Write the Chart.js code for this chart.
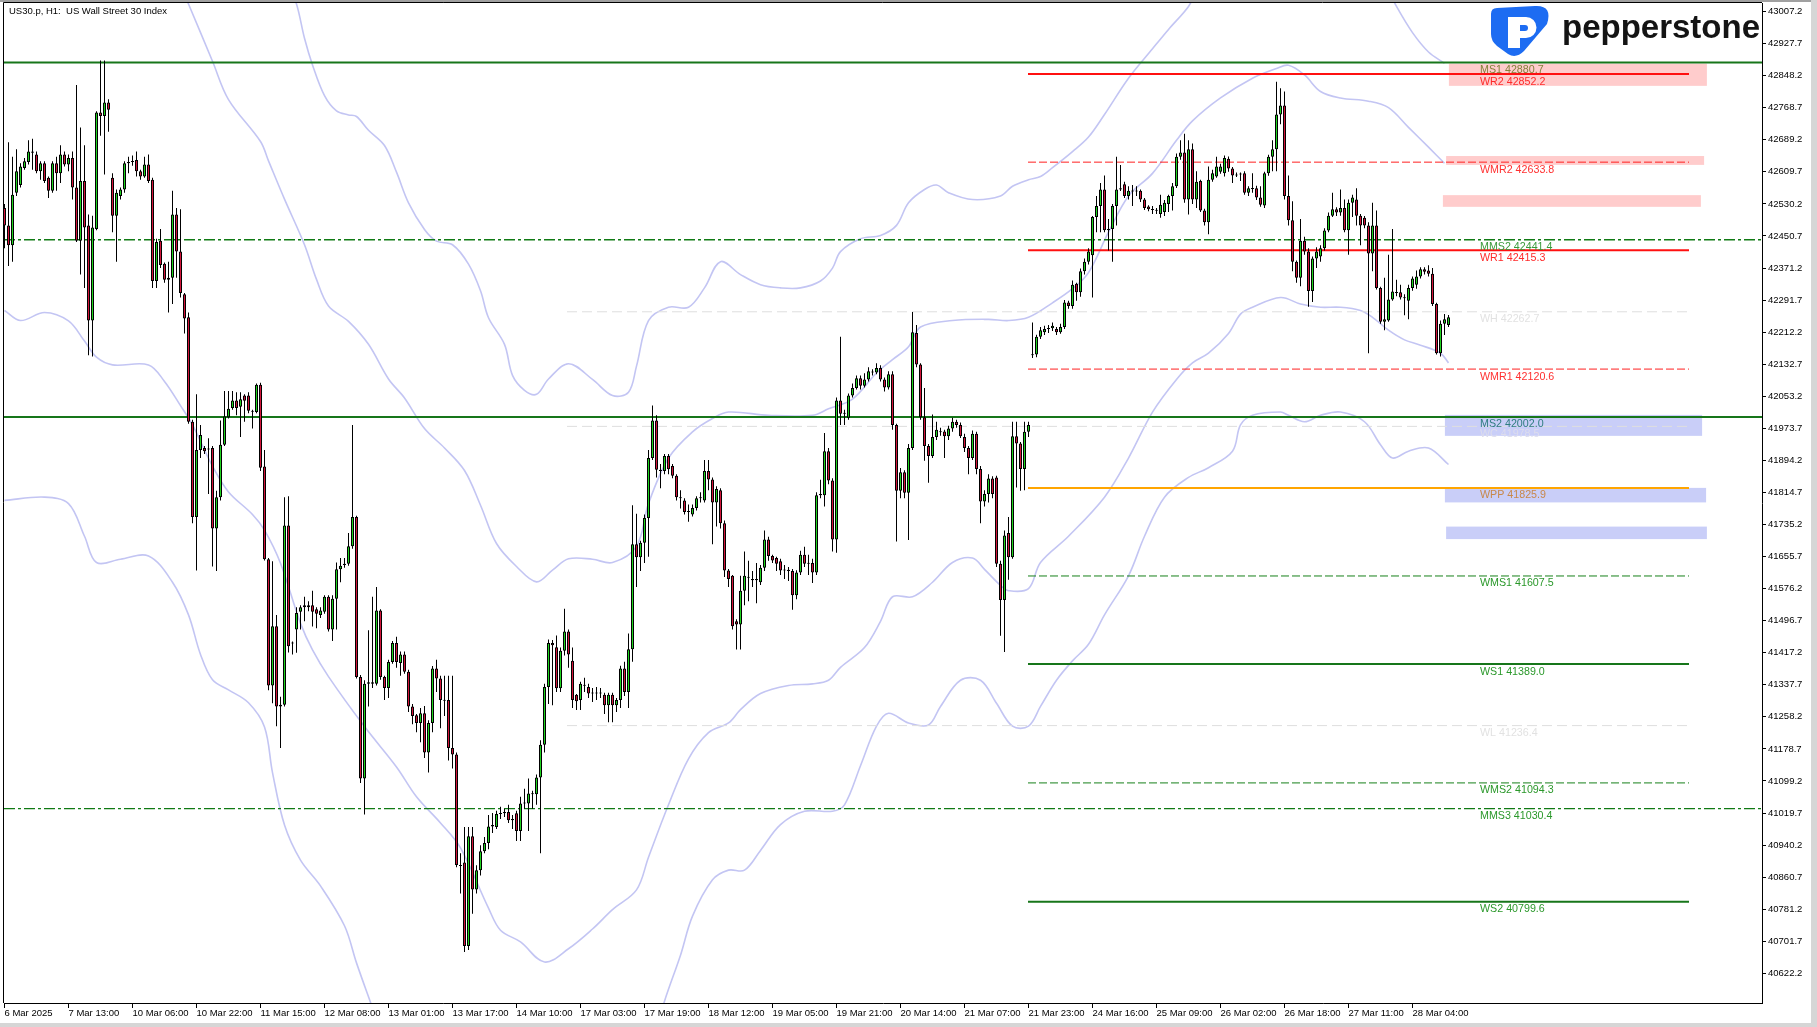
<!DOCTYPE html>
<html>
<head>
<meta charset="utf-8">
<title>US30.p H1</title>
<script src="https://cdn.jsdelivr.net/npm/chart.js@4.4.1/dist/chart.umd.min.js"></script>
<style>
  html, body { margin: 0; padding: 0; background: #fff; overflow: hidden; }
  #wrap { width: 1817px; height: 1027px; position: relative; }
</style>
</head>
<body>
<div id="wrap"><canvas id="chart"></canvas></div>
<script>
// ---- data ----
const timeLabels = ['6 Mar 2025', '7 Mar 13:00', '10 Mar 06:00', '10 Mar 22:00', '11 Mar 15:00', '12 Mar 08:00',
  '13 Mar 01:00', '13 Mar 17:00', '14 Mar 10:00', '17 Mar 03:00', '17 Mar 19:00', '18 Mar 12:00', '19 Mar 05:00',
  '19 Mar 21:00', '20 Mar 14:00', '21 Mar 07:00', '21 Mar 23:00', '24 Mar 16:00', '25 Mar 09:00', '26 Mar 02:00',
  '26 Mar 18:00', '27 Mar 11:00', '28 Mar 04:00'];

const yTickValues = [43007.2, 42927.7, 42848.2, 42768.7, 42689.2, 42609.7, 42530.2, 42450.7, 42371.2, 42291.7,
  42212.2, 42132.7, 42053.2, 41973.7, 41894.2, 41814.7, 41735.2, 41655.7, 41576.2, 41496.7, 41417.2, 41337.7,
  41258.2, 41178.7, 41099.2, 41019.7, 40940.2, 40860.7, 40781.2, 40701.7, 40622.2];

const open = [
  42520,42477,42428,42558,42577,42619,42634,42660,42653,42611,
  42631,42595,42563,42631,42606,42653,42628,42644,42571,42439,
  42587,42477,42241,42468,42757,42748,42782,42595,42501,42550,
  42566,42631,42634,42639,42611,42598,42628,42590,42339,42439,
  42382,42342,42347,42504,42412,42306,42249,41990,41754,41920,
  41925,41921,41925,41725,41803,41933,42001,42024,42043,42027,
  42055,42055,42017,42014,42082,41879,41649,41336,41483,41284,
  41288,41733,41441,41475,41519,41530,41535,41535,41525,41511,
  41519,41556,41475,41551,41624,41635,41638,41681,41754,41357,
  41105,41340,41344,41340,41522,41357,41330,41394,41441,41392,
  41413,41370,41284,41262,41243,41267,41170,41243,41378,41353,
  41300,41300,41181,41165,40891,40897,40690,40962,40830,40878,
  40925,40945,40986,40985,41017,41019,41022,41002,41019,40975,
  41043,41043,41068,41066,41108,41189,41332,41441,41431,41329,
  41422,41470,41397,41313,41300,41338,41332,41316,41318,41316,
  41313,41287,41313,41287,41300,41378,41320,41426,41686,41654,
  41690,41751,41900,41993,41871,41868,41905,41880,41856,41803,
  41795,41766,41760,41776,41800,41795,41868,41847,41790,41820,
  41738,41621,41608,41495,41487,41571,41605,41600,41597,41592,
  41628,41698,41657,41652,41644,41621,41623,41620,41560,41616,
  41660,41638,41640,41616,41808,41808,41917,41844,41698,42043,
  42010,42000,42055,42074,42098,42079,42095,42114,42112,42123,
  42095,42075,42108,41982,41819,41865,41814,41925,42210,42132,
  42001,41930,41905,41952,41964,41966,41954,41973,41990,41982,
  41952,41925,41900,41960,41873,41792,41811,41849,41852,41638,
  41548,41714,41654,41954,41936,41873,41965,42155,42157,42201,
  42212,42220,42222,42220,42212,42225,42286,42277,42332,42311,
  42363,42387,42403,42498,42525,42566,42465,42468,42525,42566,
  42579,42550,42563,42561,42563,42541,42524,42517,42515,42505,
  42510,42530,42550,42574,42647,42658,42541,42666,42541,42587,
  42514,42485,42590,42598,42610,42606,42642,42618,42601,42603,
  42606,42558,42569,42569,42546,42526,42606,42647,42666,42752,
  42774,42550,42490,42387,42347,42439,42412,42314,42395,42400,
  42420,42464,42501,42517,42509,42520,42465,42533,42541,42501,
  42496,42477,42407,42477,42322,42238,42241,42293,42309,42311,
  42298,42290,42322,42330,42350,42368,42365,42357,42282,42160,
  42233,42230];

const high = [
  42530,42683,42647,42666,42631,42644,42688,42692,42660,42636,
  42636,42598,42636,42647,42676,42660,42653,42660,42825,42720,
  42676,42504,42501,42760,42886,42886,42790,42606,42566,42571,
  42636,42647,42650,42660,42615,42647,42653,42595,42444,42468,
  42385,42387,42563,42520,42517,42309,42261,41995,42058,41982,
  41930,41949,41930,41819,41993,42066,42066,42066,42063,42063,
  42058,42063,42020,42085,42087,41920,41652,41644,41511,41308,
  41803,41805,41445,41530,41535,41556,41545,41571,41530,41530,
  41560,41560,41560,41641,41652,41652,41714,41982,41757,41362,
  41349,41473,41556,41580,41525,41360,41400,41446,41457,41420,
  41420,41375,41290,41265,41280,41285,41250,41384,41400,41360,
  41360,41360,41360,41170,40920,40985,40985,40985,40890,40940,
  40960,41015,41020,41025,41035,41030,41040,41015,41025,41060,
  41080,41105,41075,41115,41200,41340,41450,41449,41460,41430,
  41526,41475,41430,41315,41345,41355,41340,41330,41332,41330,
  41318,41318,41318,41305,41385,41395,41465,41783,41762,41695,
  41760,41920,42030,42006,41885,41910,41910,41885,41860,41820,
  41800,41785,41785,41805,41815,41895,41895,41852,41830,41825,
  41745,41625,41610,41500,41608,41668,41645,41620,41640,41635,
  41720,41705,41660,41655,41650,41635,41630,41625,41622,41670,
  41680,41660,41650,41815,41846,41962,41925,41850,42050,42201,
  42020,42060,42085,42105,42105,42110,42125,42120,42135,42130,
  42100,42115,42115,41985,41875,41870,41935,42262,42230,42135,
  42074,41935,42008,41990,41975,41970,41980,42000,41995,41988,
  41960,41930,41968,41965,41880,41820,41860,41855,41856,41645,
  41720,41754,41990,41990,41940,41990,41990,42236,42206,42225,
  42228,42230,42236,42225,42233,42292,42290,42340,42335,42370,
  42395,42420,42500,42550,42582,42601,42493,42530,42647,42627,
  42585,42574,42577,42574,42566,42545,42527,42525,42520,42553,
  42540,42553,42582,42655,42688,42704,42688,42680,42611,42590,
  42518,42623,42615,42647,42630,42650,42648,42622,42608,42608,
  42611,42574,42606,42575,42574,42610,42652,42688,42833,42817,
  42809,42601,42537,42390,42493,42449,42420,42400,42423,42428,
  42470,42509,42558,42522,42566,42541,42541,42553,42569,42505,
  42500,42485,42533,42514,42325,42347,42404,42468,42342,42330,
  42306,42330,42350,42365,42373,42373,42378,42371,42285,42241,
  42257,42255];

const low = [
  42420,42376,42387,42550,42571,42615,42628,42615,42606,42590,
  42582,42545,42558,42563,42582,42623,42611,42541,42436,42355,
  42322,42155,42152,42465,42699,42603,42709,42460,42387,42541,
  42558,42606,42625,42598,42590,42595,42582,42322,42322,42371,
  42335,42261,42282,42347,42298,42209,41985,41738,41621,41900,
  41910,41811,41631,41620,41795,41930,41998,42020,42006,41952,
  41990,42011,41973,42011,41868,41646,41324,41292,41235,41181,
  41284,41418,41413,41417,41475,41495,41520,41482,41478,41503,
  41514,41470,41446,41475,41592,41628,41633,41675,41353,41094,
  41016,41284,41330,41336,41350,41300,41305,41390,41380,41360,
  41365,41270,41240,41220,41195,41156,41120,41220,41320,41230,
  41260,41150,41130,40885,40820,40675,40680,40770,40820,40865,
  40920,40930,40970,40980,41005,41010,40995,40980,40950,40950,
  41030,40975,41030,41040,40920,41170,41290,41287,41320,41320,
  41410,41380,41280,41275,41275,41320,41305,41295,41300,41305,
  41265,41245,41245,41270,41280,41310,41280,41395,41580,41620,
  41640,41655,41895,41852,41825,41860,41860,41850,41795,41775,
  41760,41742,41755,41770,41790,41790,41820,41686,41730,41725,
  41605,41580,41475,41425,41425,41535,41545,41580,41540,41585,
  41620,41645,41640,41620,41610,41600,41595,41524,41550,41610,
  41630,41610,41590,41610,41800,41780,41835,41668,41665,41982,
  41982,41995,42050,42070,42070,42075,42090,42105,42108,42090,
  42065,42070,41970,41693,41800,41800,41697,41920,42125,41995,
  41893,41839,41900,41945,41955,41900,41945,41965,41975,41950,
  41915,41860,41895,41860,41738,41780,41790,41800,41630,41459,
  41419,41598,41650,41827,41819,41820,41952,42148,42150,42195,
  42205,42210,42215,42205,42208,42220,42270,42270,42290,42300,
  42355,42380,42298,42460,42460,42460,42415,42387,42477,42562,
  42545,42541,42525,42550,42535,42515,42512,42505,42505,42496,
  42500,42510,42514,42570,42640,42533,42504,42530,42520,42510,
  42477,42455,42585,42595,42605,42598,42610,42582,42597,42587,
  42553,42550,42558,42540,42523,42520,42600,42611,42611,42728,
  42541,42477,42363,42335,42326,42404,42275,42287,42371,42387,
  42415,42460,42498,42500,42501,42460,42404,42498,42477,42428,
  42470,42160,42363,42318,42233,42217,42238,42290,42301,42293,
  42254,42244,42315,42320,42345,42355,42350,42277,42157,42152,
  42205,42225];

const close = [
  42477,42428,42553,42611,42623,42636,42660,42657,42611,42631,
  42587,42563,42631,42606,42653,42628,42644,42571,42439,42587,
  42472,42241,42472,42757,42748,42782,42764,42501,42558,42566,
  42631,42634,42636,42611,42598,42628,42587,42339,42436,42379,
  42342,42347,42504,42412,42309,42246,41990,41754,41920,41957,
  41917,41922,41725,41803,41933,42003,42022,42043,42024,42046,
  42042,42017,42015,42082,41876,41649,41336,41483,41284,41288,
  41733,41433,41440,41516,41530,41535,41530,41519,41514,41522,
  41556,41475,41551,41624,41633,41638,41681,41754,41357,41105,
  41340,41344,41340,41522,41357,41330,41394,41441,41394,41413,
  41370,41284,41260,41243,41267,41170,41243,41378,41353,41300,
  41298,41181,41165,40891,40888,40690,40962,40830,40878,40925,
  40945,40986,40990,41017,41019,41022,41002,41005,40975,41043,
  41045,41068,41066,41108,41189,41332,41441,41436,41329,41422,
  41470,41413,41300,41297,41340,41335,41316,41318,41316,41318,
  41287,41313,41287,41300,41378,41320,41426,41686,41654,41690,
  41751,41900,41993,41871,41868,41905,41872,41856,41803,41800,
  41766,41768,41776,41800,41803,41868,41847,41790,41823,41738,
  41621,41600,41483,41487,41571,41608,41603,41597,41600,41628,
  41698,41657,41646,41638,41621,41623,41620,41560,41616,41660,
  41638,41640,41616,41808,41811,41917,41844,41698,42043,42010,
  42012,42055,42074,42098,42079,42095,42115,42112,42123,42095,
  42075,42108,41982,41819,41865,41814,41925,42212,42132,42001,
  41930,41905,41952,41970,41966,41954,41973,41990,41982,41954,
  41925,41900,41960,41873,41792,41811,41849,41811,41638,41548,
  41708,41654,41954,41936,41873,41965,41982,42157,42201,42217,
  42220,42222,42228,42212,42225,42286,42277,42330,42311,42363,
  42387,42412,42498,42525,42566,42465,42468,42525,42566,42569,
  42550,42563,42561,42563,42541,42520,42517,42515,42513,42528,
  42533,42550,42574,42647,42658,42541,42666,42541,42585,42514,
  42485,42590,42606,42623,42623,42644,42618,42601,42603,42605,
  42558,42569,42567,42546,42528,42606,42647,42666,42752,42774,
  42550,42490,42387,42347,42439,42412,42314,42395,42412,42420,
  42464,42501,42517,42509,42520,42465,42533,42546,42501,42477,
  42477,42407,42477,42322,42238,42244,42293,42313,42311,42298,
  42296,42322,42345,42350,42368,42362,42357,42282,42160,42233,
  42244,42249];

// band curves as [bar, price]; null price = curve leaves the visible range
const bandOuterUpper = [[71,43070],[73,43026],[75,42941],[77,42875],[80,42799],[83,42761],[86,42751],[88,42747],
  [91,42713],[95,42675],[98,42609],[101,42533],[105,42467],[108,42438],[112,42429],[116,42381],[119,42315],
  [121,42248],[125,42182],[127,42105],[130,42068],[133,42058],[136,42096],[141,42134],[147,42095],[152,42055],
  [156,42063],[158,42128],[161,42241],[166,42274],[171,42274],[175,42322],[179,42387],[184,42355],[189,42330],
  [194,42322],[199,42322],[204,42339],[207,42371],[209,42412],[214,42444],[219,42452],[223,42477],[226,42533],
  [230,42566],[233,42577],[236,42558],[242,42541],[249,42550],[252,42574],[256,42590],[259,42598],[262,42620],
  [267,42660],[271,42696],[275,42752],[281,42842],[287,42915],[291,42963],[296,43020],[298,43060],[320,null],
  [346,43060],[348,43020],[352,42955],[356,42907],[360,42879]];
const bandInnerUpper = [[44,43070],[46,43026],[52,42884],[56,42789],[64,42685],[66,42637],[70,42542],[75,42429],
  [78,42343],[81,42277],[86,42239],[91,42182],[96,42096],[100,42049],[105,41973],[110,41925],[115,41869],
  [119,41783],[123,41688],[128,41631],[133,41593],[137,41622],[141,41650],[147,41649],[152,41641],[158,41681],
  [161,41787],[166,41900],[172,41965],[177,41998],[181,42014],[191,42006],[202,42006],[206,42022],[212,42046],
  [218,42111],[222,42144],[226,42176],[229,42225],[237,42241],[246,42244],[251,42241],[256,42249],[262,42285],
  [267,42320],[271,42360],[276,42460],[281,42550],[287,42606],[293,42688],[297,42736],[304,42793],[312,42842],
  [318,42866],[321,42874],[325,42850],[329,42809],[334,42793],[341,42785],[346,42769],[351,42720],[356,42671],
  [360,42631]];
const bandInnerLower = [[0,42266],[4,42241],[10,42261],[16,42240],[20,42190],[23,42150],[27,42131],[36,42131],
  [40,42090],[44,42030],[47,41982],[52,41880],[56,41816],[62,41760],[65,41721],[69,41639],[74,41490],[77,41424],
  [81,41358],[90,41234],[98,41134],[103,41060],[109,40995],[114,40933],[121,40784],[124,40729],[129,40700],
  [135,40650],[141,40683],[147,40732],[152,40780],[158,40829],[161,40910],[166,41040],[171,41154],[176,41219],
  [181,41243],[184,41276],[189,41316],[196,41336],[202,41340],[206,41349],[209,41381],[215,41430],[219,41495],
  [222,41556],[227,41556],[232,41592],[237,41641],[242,41652],[245,41624],[249,41584],[251,41571],[256,41576],
  [259,41641],[266,41706],[275,41803],[281,41900],[287,42014],[293,42095],[297,42136],[301,42160],[306,42209],
  [309,42257],[312,42274],[319,42298],[324,42282],[329,42274],[334,42274],[339,42266],[342,42249],[346,42217],
  [350,42193],[354,42180],[359,42160],[361,42136]];
const bandOuterLower = [[0,41795],[10,41803],[16,41787],[20,41706],[23,41641],[29,41649],[36,41657],[42,41592],
  [46,41511],[49,41413],[52,41350],[56,41325],[61,41293],[65,41233],[67,41120],[70,40990],[74,40903],[79,40839],
  [85,40740],[88,40648],[92,40536],[94,40480],[130,null],[163,40480],[165,40553],[169,40667],[172,40764],
  [177,40854],[181,40878],[185,40878],[189,40927],[194,40991],[200,41024],[207,41024],[210,41040],[214,41137],
  [218,41235],[221,41267],[226,41243],[231,41238],[234,41284],[239,41349],[244,41349],[248,41292],[252,41235],
  [256,41235],[259,41284],[263,41349],[267,41397],[271,41438],[275,41511],[281,41608],[285,41706],[290,41803],
  [296,41852],[301,41876],[307,41917],[309,41982],[312,42006],[319,42014],[321,42006],[325,41990],[329,42006],
  [334,42014],[340,41990],[344,41933],[347,41900],[351,41917],[356,41925],[361,41884]];

const levelNames = ['MS1', 'WR2', 'WMR2', 'MMS2', 'WR1', 'WH', 'WMR1', 'MS2', 'WC', 'WPP',
  'WMS1', 'WS1', 'WL', 'WMS2', 'MMS3', 'WS2'];
const levelValues = [42880.7, 42852.2, 42633.8, 42441.4, 42415.3, 42262.7, 42120.6, 42002.0, 41978.5, 41825.9,
  41607.5, 41389.0, 41236.4, 41094.3, 41030.4, 40799.6];

const zoneLow = [42823, 42627, 42523, 41955, 41790, 41699];
const zoneHigh = [42878, 42649, 42552, 42007, 41826, 41730];
const zoneFrom = [361.1, 360.4, 359.6, 360.1, 360.1, 360.4];
const zoneTo = [425.6, 424.9, 424.1, 424.4, 425.4, 425.6];
const zoneKind = ['sell', 'sell', 'sell', 'buy', 'buy', 'buy'];

// ---- layout / styles ----
const W = 1817, H = 1027;
const PLOT_L = 4, PLOT_T = 3, PLOT_R = 1762, PLOT_B = 1003;
const BAR_PX = 4;
const xMin = -0.125;
const xMax = xMin + (PLOT_R - PLOT_L) / BAR_PX;
const FONT = '"Liberation Sans", Arial, sans-serif';
const UP = '#1fd41f', DOWN = '#d2143a';
const BAND = '#c3c5f3';
const WEEK_FROM = 255.875, PREV_FROM = 140.625, LEVEL_TO = 421.125, LABEL_X = 368.875;

const levelStyle = {
  MS1:  { color: '#17761a', width: 2, dash: [], from: xMin, to: xMax, text: '#85803a' },
  WR2:  { color: '#ff1010', width: 2, dash: [], from: WEEK_FROM, to: LEVEL_TO, text: '#ff2a2a' },
  WMR2: { color: '#ff2020', width: 1, dash: [8, 3], from: WEEK_FROM, to: LEVEL_TO, text: '#ff3030' },
  MMS2: { color: '#107a14', width: 1.4, dash: [11, 3, 3, 3], from: xMin, to: xMax, text: '#3a9a3a' },
  WR1:  { color: '#ff1010', width: 2, dash: [], from: WEEK_FROM, to: LEVEL_TO, text: '#ff2a2a' },
  WH:   { color: '#dedede', width: 1, dash: [10, 5], from: PREV_FROM, to: LEVEL_TO, text: '#e2e2e2' },
  WMR1: { color: '#ff2020', width: 1, dash: [8, 3], from: WEEK_FROM, to: LEVEL_TO, text: '#ff3030' },
  MS2:  { color: '#17761a', width: 2, dash: [], from: xMin, to: xMax, text: '#2f7d80' },
  WC:   { color: '#dedede', width: 1, dash: [10, 5], from: PREV_FROM, to: LEVEL_TO, text: '#dcdcec' },
  WPP:  { color: '#ffa500', width: 2, dash: [], from: WEEK_FROM, to: LEVEL_TO, text: '#c8884a' },
  WMS1: { color: '#17801a', width: 1, dash: [8, 3], from: WEEK_FROM, to: LEVEL_TO, text: '#2a982a' },
  WS1:  { color: '#17761a', width: 2, dash: [], from: WEEK_FROM, to: LEVEL_TO, text: '#2a982a' },
  WL:   { color: '#dedede', width: 1, dash: [10, 5], from: PREV_FROM, to: LEVEL_TO, text: '#e2e2e2' },
  WMS2: { color: '#17801a', width: 1, dash: [8, 3], from: WEEK_FROM, to: LEVEL_TO, text: '#2a982a' },
  MMS3: { color: '#107a14', width: 1.2, dash: [11, 3, 3, 3], from: xMin, to: xMax, text: '#2a982a' },
  WS2:  { color: '#17761a', width: 2, dash: [], from: WEEK_FROM, to: LEVEL_TO, text: '#2a982a' }
};
const zoneColor = { sell: 'rgba(255,190,190,0.78)', buy: 'rgba(186,192,246,0.78)' };

// ---- datasets ----
const idx = open.map((_, i) => i);
const isUp = i => close[i] >= open[i];

function bandDataset(pairs) {
  return {
    type: 'line',
    data: pairs.map(p => ({ x: p[0], y: p[1] })),
    borderColor: BAND,
    borderWidth: 1.6,
    pointRadius: 0,
    tension: 0.35,
    spanGaps: false,
    order: 6
  };
}

const levelDatasets = levelNames.map((name, k) => {
  const st = levelStyle[name];
  return {
    type: 'line',
    data: [{ x: st.from, y: levelValues[k] }, { x: st.to, y: levelValues[k] }],
    borderColor: st.color,
    borderWidth: st.width,
    borderDash: st.dash,
    pointRadius: 0,
    order: 5
  };
});

const datasets = [
  bandDataset(bandOuterUpper),
  bandDataset(bandInnerUpper),
  bandDataset(bandInnerLower),
  bandDataset(bandOuterLower),
  ...levelDatasets,
  {
    type: 'bar',
    data: idx.map(i => ({ x: i, y: [low[i], high[i]] })),
    backgroundColor: '#000',
    borderWidth: 0,
    barThickness: 1,
    minBarLength: 1,
    inflateAmount: 0,
    grouped: false,
    order: 3
  },
  {
    type: 'bar',
    data: idx.map(i => ({ x: i, y: [Math.min(open[i], close[i]), Math.max(open[i], close[i])] })),
    backgroundColor: c => isUp(c.dataIndex) ? UP : DOWN,
    borderColor: '#000',
    borderWidth: 1,
    borderSkipped: false,
    barThickness: 3,
    minBarLength: 1,
    inflateAmount: 0,
    grouped: false,
    order: 2
  }
];

// ---- plugins ----
const zonesPlugin = {
  id: 'zones',
  beforeDatasetsDraw(chart) {
    const { ctx, scales: { x, y } } = chart;
    ctx.save();
    zoneLow.forEach((lo, k) => {
      const x1 = x.getPixelForValue(zoneFrom[k]), x2 = x.getPixelForValue(zoneTo[k]);
      const y1 = y.getPixelForValue(zoneHigh[k]), y2 = y.getPixelForValue(lo);
      ctx.fillStyle = zoneColor[zoneKind[k]];
      ctx.fillRect(x1, y1, x2 - x1, y2 - y1);
    });
    ctx.restore();
  }
};

const labelsPlugin = {
  id: 'levelLabels',
  afterDatasetsDraw(chart) {
    const { ctx, scales: { x, y } } = chart;
    ctx.save();
    ctx.font = '10.7px ' + FONT;
    ctx.textBaseline = 'middle';
    ctx.textAlign = 'left';
    const lx = x.getPixelForValue(LABEL_X);
    levelNames.forEach((name, k) => {
      const py = y.getPixelForValue(levelValues[k]) + 7.5;
      ctx.fillStyle = levelStyle[name].text;
      ctx.fillText(name + ' ' + levelValues[k].toFixed(1), lx, py);
    });
    ctx.restore();
  }
};

const framePlugin = {
  id: 'frame',
  beforeDraw(chart) {
    const { ctx } = chart;
    ctx.save();
    ctx.fillStyle = '#fff';
    ctx.fillRect(0, 0, W, H);
    ctx.restore();
  },
  afterDraw(chart) {
    const { ctx, chartArea: a } = chart;
    ctx.save();
    // window edges
    ctx.fillStyle = '#a0a0a0';
    ctx.fillRect(0, 0, W, 2);
    ctx.fillStyle = '#d6d6d6';
    ctx.fillRect(W - 6, 0, 6, H);
    ctx.fillRect(0, H - 4, W, 4);
    // plot frame top and left
    ctx.strokeStyle = '#000';
    ctx.lineWidth = 1;
    ctx.beginPath();
    ctx.moveTo(a.left - 0.5, a.top - 0.5);
    ctx.lineTo(a.right, a.top - 0.5);
    ctx.moveTo(a.left - 0.5, a.top - 0.5);
    ctx.lineTo(a.left - 0.5, a.bottom);
    ctx.stroke();
    // header
    ctx.fillStyle = '#000';
    ctx.font = '9.5px ' + FONT;
    ctx.textBaseline = 'middle';
    ctx.fillText('US30.p, H1:  US Wall Street 30 Index', 9, 11);
    // logo
    ctx.beginPath();
    ctx.rect(a.left, a.top, a.right - a.left, a.bottom - a.top);
    ctx.clip();
    ctx.fillStyle = '#1d6cf2';
    ctx.beginPath();
    ctx.moveTo(1497, 8);
    ctx.lineTo(1535, 6);
    ctx.quadraticCurveTo(1553, 5, 1547, 24);
    ctx.lineTo(1524, 51);
    ctx.quadraticCurveTo(1516, 59, 1508, 54);
    ctx.lineTo(1497, 46);
    ctx.quadraticCurveTo(1491, 41, 1491, 34);
    ctx.lineTo(1491, 14);
    ctx.quadraticCurveTo(1491, 8, 1497, 8);
    ctx.fill();
    ctx.fillStyle = '#fff';
    ctx.beginPath();
    ctx.moveTo(1508, 17);
    ctx.lineTo(1526, 17);
    ctx.arc(1526, 27.5, 10.5, -Math.PI / 2, Math.PI / 2);
    ctx.lineTo(1520, 38);
    ctx.lineTo(1520, 48);
    ctx.lineTo(1508, 48);
    ctx.closePath();
    ctx.fill();
    ctx.fillStyle = '#1d6cf2';
    ctx.beginPath();
    ctx.moveTo(1520, 25);
    ctx.lineTo(1525, 25);
    ctx.arc(1525, 28, 3, -Math.PI / 2, Math.PI / 2);
    ctx.lineTo(1520, 31);
    ctx.closePath();
    ctx.fill();
    ctx.fillStyle = '#141414';
    ctx.font = 'bold 33px ' + FONT;
    ctx.textBaseline = 'alphabetic';
    ctx.fillText('pepperstone', 1562, 38);
    ctx.restore();
  }
};

// ---- chart ----
new Chart(document.getElementById('chart'), {
  type: 'bar',
  data: { datasets },
  options: {
    responsive: true,
    maintainAspectRatio: false,
    animation: false,
    events: [],
    layout: { padding: { left: PLOT_L, top: PLOT_T, right: 0, bottom: 0 } },
    plugins: { legend: { display: false }, tooltip: { enabled: false } },
    scales: {
      x: {
        type: 'linear',
        position: 'bottom',
        offset: false,
        min: xMin,
        max: xMax,
        afterBuildTicks: s => { s.ticks = timeLabels.map((_, k) => ({ value: k * 16 })); },
        afterFit: s => { s.height = H - PLOT_B; s.paddingLeft = 0; s.paddingRight = 0; },
        ticks: {
          callback: (v, i) => timeLabels[i],
          align: 'start',
          autoSkip: false,
          maxRotation: 0,
          padding: 0,
          color: '#000',
          font: { family: FONT, size: 9.5 }
        },
        grid: { offset: false, drawOnChartArea: false, drawTicks: true, tickLength: 5, color: '#000' },
        border: { display: true, color: '#000' }
      },
      y: {
        type: 'linear',
        position: 'right',
        min: 40548.5,
        max: 43028.5,
        afterBuildTicks: s => { s.ticks = yTickValues.map(v => ({ value: v })); },
        afterFit: s => { s.width = W - PLOT_R; s.paddingTop = 0; s.paddingBottom = 0; },
        ticks: {
          callback: v => Number(v).toFixed(1),
          autoSkip: false,
          padding: 2,
          color: '#000',
          font: { family: FONT, size: 9.5 }
        },
        grid: { drawOnChartArea: false, drawTicks: true, tickLength: 4, color: '#000' },
        border: { display: true, color: '#000' }
      }
    }
  },
  plugins: [zonesPlugin, labelsPlugin, framePlugin]
});
</script>
</body>
</html>
